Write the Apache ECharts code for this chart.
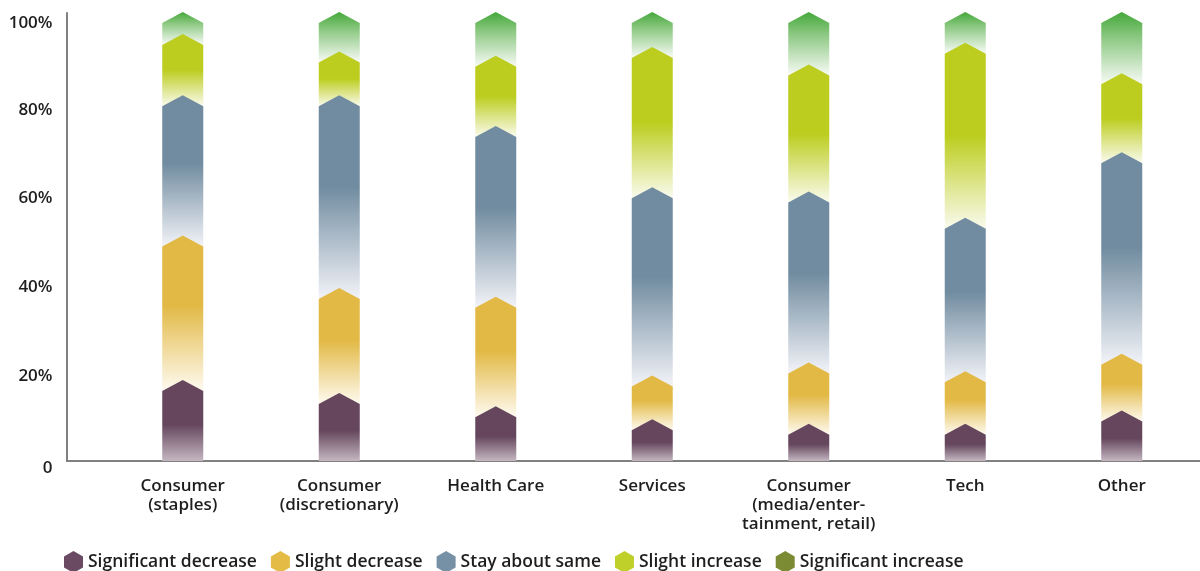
<!DOCTYPE html>
<html>
<head>
<meta charset="utf-8">
<script src="https://cdn.jsdelivr.net/npm/echarts@6/dist/echarts.min.js"></script>
<style>
html,body{margin:0;padding:0;background:#ffffff;}
#chart{width:1200px;height:571px;}
</style>
</head>
<body>
<div id="chart"></div>
<script>
// ---- data ----
const categories = ['Consumer\n(staples)', 'Consumer\n(discretionary)', 'Health Care', 'Services', 'Consumer\n(media/enter-\ntainment, retail)', 'Tech', 'Other'];
const seriesNames = ['Significant decrease', 'Slight decrease', 'Stay about same', 'Slight increase', 'Significant increase'];
const significantDecrease = [16, 13, 10, 7, 6, 6, 9];
const slightDecrease      = [33, 24, 25, 10, 14, 12, 13];
const stayAboutSame       = [32, 44, 39, 43, 39, 35, 46];
const slightIncrease      = [14, 10, 16, 32, 29, 40, 18];
const significantIncrease = [5, 9, 10, 8, 12, 7, 14];
const yTicks = [0, 20, 40, 60, 80, 100];

// ---- styles ----
const legendColors = ['#6a4a62', '#e4bb45', '#7690a5', '#bfd02a', '#7b8b33'];
const gradStops = [
  [[0, '#65465d'], [0.55, '#65465d'], [1, '#c4b7c1']],
  [[0, '#e2b945'], [0.45, '#e2b945'], [1, '#fefaf0']],
  [[0, '#718ca0'], [0.45, '#718ca0'], [1, '#f2f3f8']],
  [[0, '#bccd1f'], [0.5, '#bccd1f'], [1, '#fafbee']],
  [[0, '#44a83a'], [0.35, '#8cc882'], [1, '#f8fbf6']]
];
const hexIcon = 'path://M0,-1 L0.866,-0.5 L0.866,0.5 L0,1 L-0.866,0.5 L-0.866,-0.5 Z';
const FONT = 'Open Sans';
const labelShift = { 0: 7, 20: 3, 40: 1 };
const axisFont = { fontFamily: FONT, fontWeight: 600, fontSize: 17, color: '#1e1e1e' };

const allSeries = [significantDecrease, slightDecrease, stayAboutSame, slightIncrease, significantIncrease];
const cum = categories.map(() => 0);
const series = allSeries.map((vals, si) => {
  const data = vals.map((v, ci) => {
    const lo = cum[ci];
    cum[ci] += v;
    return [ci, lo, cum[ci]];
  });
  return {
    name: seriesNames[si],
    type: 'custom',
    xAxisIndex: 0, yAxisIndex: 0,
    z: 10 - si,
    itemStyle: { color: legendColors[si] },
    encode: { x: 0, y: [1, 2] },
    data: data,
    renderItem: function (params, api) {
      const ci = api.value(0), lo = api.value(1), hi = api.value(2);
      const top = api.coord([ci, hi]);
      const bot = api.coord([ci, lo]);
      const half = api.size([1, 0])[0] * 0.262 / 2;
      const cx = top[0], yt = top[1], yb = bot[1], h = 11;
      return {
        type: 'polygon',
        shape: { points: [[cx - half, yb], [cx + half, yb], [cx + half, yt], [cx, yt - h], [cx - half, yt]] },
        style: {
          fill: {
            type: 'linear', x: 0, y: 0, x2: 0, y2: 1,
            colorStops: gradStops[si].map(s => ({ offset: s[0], color: s[1] }))
          }
        }
      };
    }
  };
});

const yRich = {};
Object.keys(labelShift).forEach(k => {
  yRich['s' + k] = Object.assign({ padding: [labelShift[k] * 2, 0, 0, 0] }, axisFont);
});

const chart = echarts.init(document.getElementById('chart'), null, { renderer: 'canvas' });
chart.setOption({
  animation: false,
  backgroundColor: '#ffffff',
  textStyle: { fontFamily: FONT },
  legend: {
    left: 64, top: 551, padding: 0,
    itemWidth: 19, itemHeight: 22, itemGap: 14,
    icon: hexIcon,
    textStyle: { fontFamily: FONT, fontWeight: 600, fontSize: 17.5, color: '#1e1e1e', padding: [0, 0, 0, 0] },
    data: seriesNames.map(n => ({ name: n, icon: hexIcon }))
  },
  grid: [
    { left: 104.5, right: -3, top: 23, bottom: 110 },
    { left: 67, right: 0, top: 13, bottom: 110 }
  ],
  xAxis: [
    {
      type: 'category', gridIndex: 0, data: categories, boundaryGap: true,
      axisLine: { show: false }, axisTick: { show: false }, splitLine: { show: false },
      axisLabel: Object.assign({ interval: 0, margin: 16, lineHeight: 19 }, axisFont)
    },
    {
      type: 'value', gridIndex: 1, min: 0, max: 1,
      axisLine: { show: true, onZero: false, lineStyle: { color: '#808080', width: 2 } },
      axisTick: { show: false }, axisLabel: { show: false }, splitLine: { show: false }
    }
  ],
  yAxis: [
    {
      type: 'value', gridIndex: 0, min: yTicks[0], max: yTicks[yTicks.length - 1], interval: 20,
      axisLine: { show: false }, axisTick: { show: false }, splitLine: { show: false },
      axisLabel: Object.assign({
        margin: 52,
        formatter: v => {
          const t = v === 0 ? '0' : v + '%';
          return labelShift[v] ? '{s' + v + '|' + t + '}' : t;
        },
        rich: yRich
      }, axisFont)
    },
    {
      type: 'value', gridIndex: 1, min: 0, max: 1,
      axisLine: { show: true, onZero: false, lineStyle: { color: '#808080', width: 2 } },
      axisTick: { show: false }, axisLabel: { show: false }, splitLine: { show: false }
    }
  ],
  series: series
});
</script>
</body>
</html>
